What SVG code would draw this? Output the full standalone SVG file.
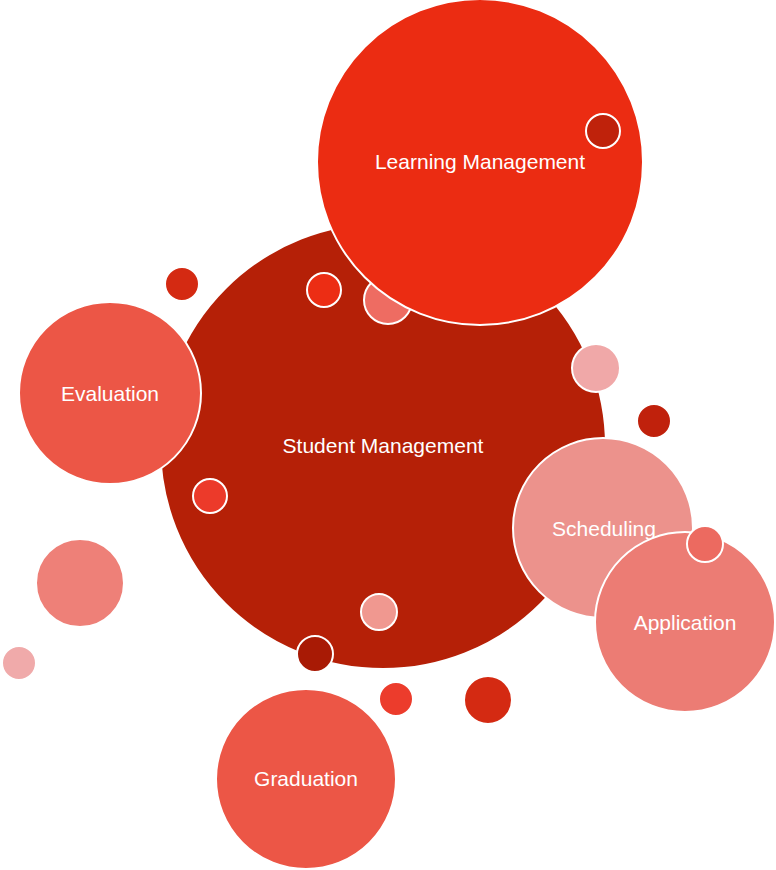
<svg xmlns="http://www.w3.org/2000/svg" width="776" height="870" viewBox="0 0 776 870">
<style>
circle{stroke:#fff;stroke-width:2}
.lbl{font-family:"Liberation Sans",Arial,sans-serif;font-size:21px;fill:#fff;text-anchor:middle;dominant-baseline:central}
</style>
<rect width="776" height="870" fill="#fff"/>
<g id="connectors"></g>
<g id="n-student"><circle cx="383" cy="446" r="223" fill="#b52007"/><text class="lbl" x="383" y="445">Student Management</text></g>
<g id="n-s1"><circle cx="388" cy="300" r="24" fill="#ee6c62"/></g>
<g id="n-learning"><circle cx="480" cy="162" r="163" fill="#eb2c12"/><text class="lbl" x="480" y="161">Learning Management</text></g>
<g id="n-s2"><circle cx="603" cy="131" r="17" fill="#bf220b"/></g>
<g id="n-s3"><circle cx="324" cy="290" r="17" fill="#ec2d14"/></g>
<g id="n-s4"><circle cx="182" cy="284" r="17" fill="#d42a12" stroke="none"/></g>
<g id="n-eval"><circle cx="110" cy="393" r="91" fill="#ec5646"/><text class="lbl" x="110" y="393">Evaluation</text></g>
<g id="n-s5"><circle cx="210" cy="496" r="17" fill="#ec3a2a"/></g>
<g id="n-s6"><circle cx="596" cy="368" r="24" fill="#f0a8a8"/></g>
<g id="n-s7"><circle cx="654" cy="421" r="17" fill="#c0210c"/></g>
<g id="n-sched"><circle cx="603" cy="528" r="90" fill="#ec928c"/><text class="lbl" x="604" y="528">Scheduling</text></g>
<g id="n-app"><circle cx="685" cy="622" r="90" fill="#ec7c74"/><text class="lbl" x="685" y="622">Application</text></g>
<g id="n-s8"><circle cx="705" cy="544" r="18" fill="#ec6a60"/></g>
<g id="n-s9"><circle cx="80" cy="583" r="44" fill="#ee8078"/></g>
<g id="n-s10"><circle cx="19" cy="663" r="17" fill="#f0aaaa"/></g>
<g id="n-s11"><circle cx="379" cy="612" r="18" fill="#f09890"/></g>
<g id="n-s12"><circle cx="315" cy="654" r="18" fill="#a81a05"/></g>
<g id="n-s13"><circle cx="396" cy="699" r="17" fill="#ec3c2c"/></g>
<g id="n-s14"><circle cx="488" cy="700" r="24" fill="#d42a12"/></g>
<g id="n-grad"><circle cx="306" cy="779" r="90" fill="#ec5646"/><text class="lbl" x="306" y="778">Graduation</text></g>
</svg>
